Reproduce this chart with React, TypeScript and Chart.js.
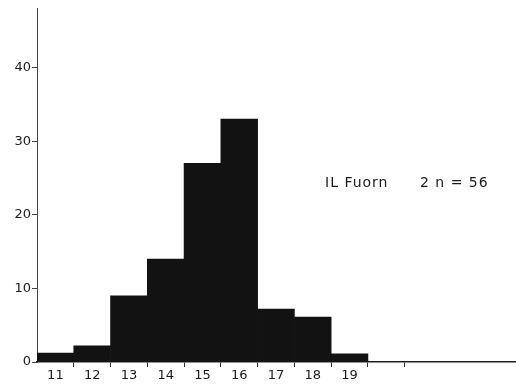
import React, { useEffect, useRef } from "react";
import { Chart, registerables } from "chart.js";

Chart.register(...registerables);

const categories = ["11", "12", "13", "14", "15", "16", "17", "18", "19", "", "", "", ""];
const percentages = [1.2, 2.2, 9, 14, 27, 33, 7.2, 6.1, 1.1, 0, 0, 0, 0];
const yTickValues = [0, 10, 20, 30, 40];
const annotationName = "IL Fuorn";
const annotationCount = "2 n = 56";

const FONT = "'DejaVu Sans', 'Liberation Sans', sans-serif";

const annotationPlugin = {
  id: "annotationText",
  afterDraw(chart: any) {
    const { ctx, chartArea } = chart;
    ctx.save();
    ctx.fillStyle = "#1c1c1c";
    ctx.font = `14px ${FONT}`;
    try {
      (ctx as any).letterSpacing = "1px";
    } catch (e) {}
    ctx.textBaseline = "middle";
    ctx.textAlign = "left";
    const y = chartArea.top + 175;
    ctx.fillText(annotationName, chartArea.left + 288, y);
    ctx.fillText(annotationCount, chartArea.left + 383, y);
    ctx.restore();
  },
};

export default function App() {
  const ref = useRef<HTMLCanvasElement | null>(null);

  useEffect(() => {
    document.body.style.margin = "0";
    const canvas = ref.current;
    if (!canvas) return;
    const chart = new Chart(canvas, {
      type: "bar",
      data: {
        labels: categories,
        datasets: [
          {
            data: percentages,
            backgroundColor: "#121212",
            borderWidth: 0,
            barPercentage: 1,
            categoryPercentage: 1,
          },
        ],
      },
      options: {
        responsive: false,
        animation: false,
        layout: { padding: { top: 8, right: 1, left: 0, bottom: 0 } },
        plugins: {
          legend: { display: false },
          tooltip: { enabled: false },
          title: { display: false },
        },
        scales: {
          x: {
            type: "category",
            offset: true,
            border: { display: true, color: "#222", width: 1.5 },
            grid: {
              offset: true,
              drawOnChartArea: false,
              drawTicks: true,
              tickLength: 5,
              color: (ctx: any) => (ctx.index >= 1 && ctx.index <= 10 ? "#333" : "rgba(0,0,0,0)"),
            },
            ticks: {
              color: "#1c1c1c",
              font: { family: FONT, size: 13 },
              padding: 1,
              maxRotation: 0,
              autoSkip: false,
            },
            afterFit: (scale: any) => {
              scale.height = 23;
            },
          },
          y: {
            min: 0,
            max: 48,
            border: { display: true, color: "#444", width: 1 },
            grid: {
              drawOnChartArea: false,
              drawTicks: true,
              tickLength: 5,
              color: "#444",
            },
            afterBuildTicks: (scale: any) => {
              scale.ticks = yTickValues.map((v) => ({ value: v }));
            },
            ticks: {
              color: "#1c1c1c",
              font: { family: FONT, size: 13 },
              padding: 1,
              callback: (v: any) => String(v),
            },
            afterFit: (scale: any) => {
              scale.width = 37;
            },
          },
        },
      },
      plugins: [annotationPlugin],
    });
    return () => chart.destroy();
  }, []);

  return <canvas ref={ref} width={516} height={385} style={{ display: "block" }} />;
}
